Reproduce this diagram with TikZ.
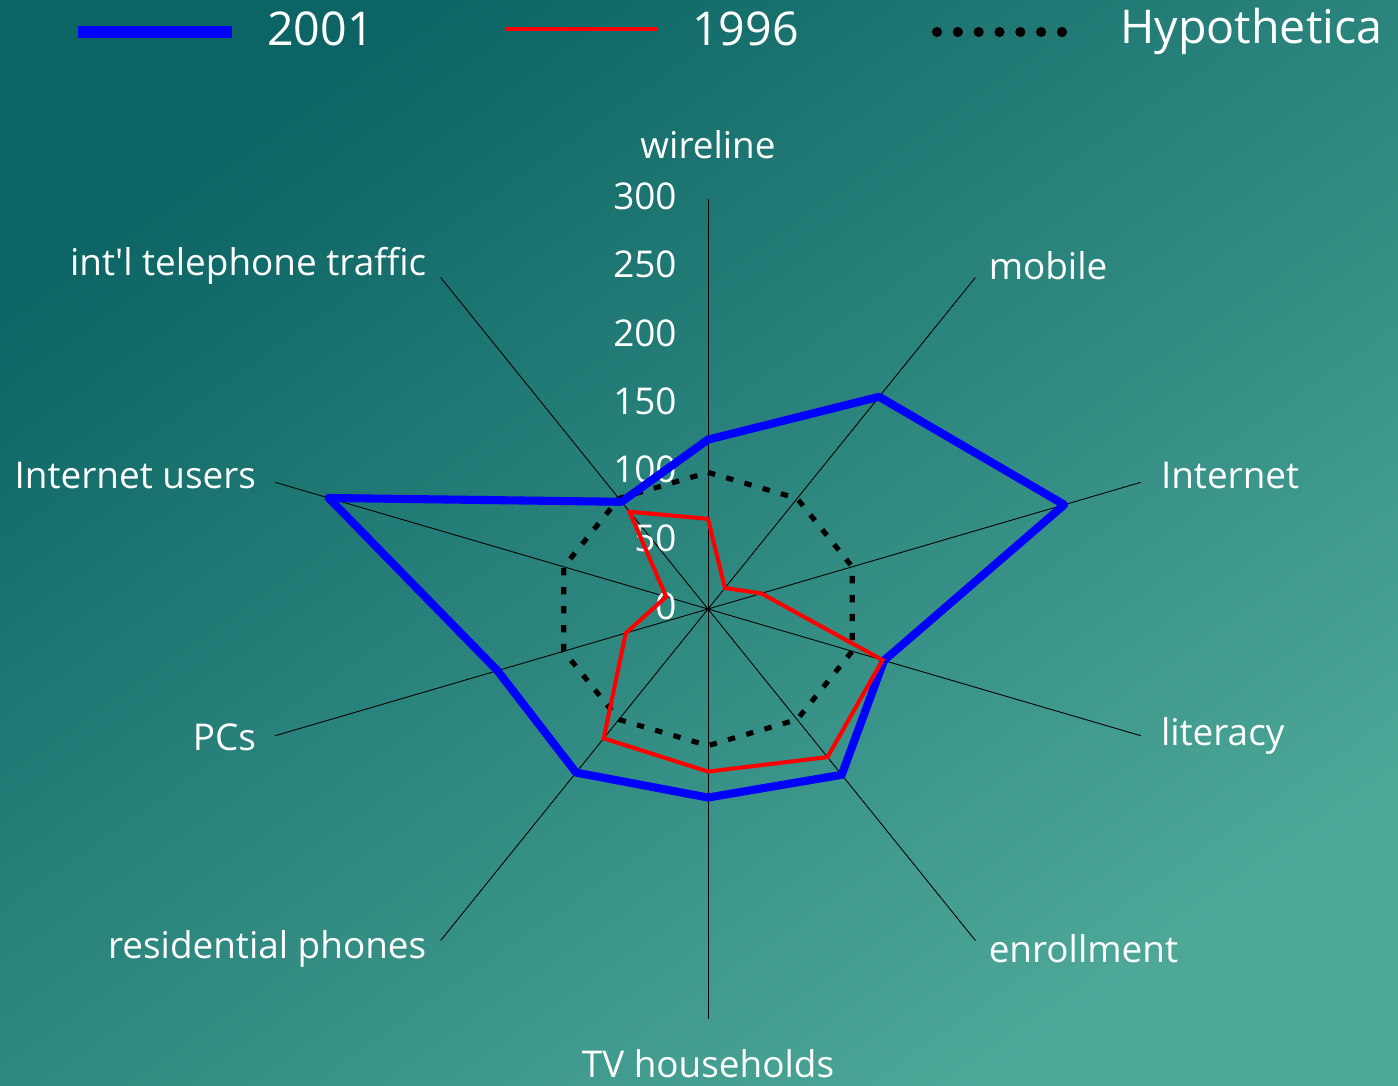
\documentclass[tikz,border=0pt]{standalone}
\usepackage{fontspec}
\setmainfont{Open Sans}
\usetikzlibrary{calc}
\usetikzlibrary{positioning}
\definecolor{TealDark}{HTML}{0C6464}
\definecolor{TealMid}{HTML}{2C7F7E}
\definecolor{TealLight}{HTML}{4EA898}
\definecolor{LineBlue}{HTML}{0000FF}
\definecolor{LineRed}{HTML}{FF0000}

\begin{document}
\begin{tikzpicture}[x=0.02cm, y=-0.02cm,
  lbl/.style={text=white, inner sep=0pt, font=\fontsize{21}{23}\selectfont},
  legtxt/.style={text=white, inner sep=0pt, font=\fontsize{26.5}{28}\selectfont},
  spoke/.style={black, line width=0.5pt},
  line2001/.style={LineBlue, line width=4.6pt, line join=round},
  line1996/.style={LineRed, line width=2.3pt, line join=miter},
  linehyp/.style={black, line width=2.9pt, dash pattern=on 4.2pt off 6.6pt}]

  \shade[top color=TealDark, middle color=TealMid, bottom color=TealLight,
    shading angle=35] (0,0) rectangle (1398,1085);
  \useasboundingbox (0,0) rectangle (1398,1085);
  \clip (0,0) rectangle (1398,1085);

  \coordinate (Origin) at (708,609);

  % legend
  \coordinate (LegBlueA) at (78,32);
  \coordinate (LegBlueB) at (232,32);
  \coordinate (LegRedA)  at (505,29);
  \coordinate (LegRedB)  at (658,29);
  \coordinate (LegHypA)  at (937,32);
  \coordinate (LegHypB)  at (1062,32);
  \draw[LineBlue, line width=6.3pt] (LegBlueA) -- (LegBlueB);
  \draw[LineRed, line width=2.6pt] (LegRedA) -- (LegRedB);
  \draw[black, line width=5.8pt, line cap=round, dash pattern=on 0pt off 11.85pt]
    (LegHypA) -- (LegHypB);
  \node[legtxt, anchor=west] (Leg2001) at (267,29) {2001};
  \node[legtxt, anchor=west] (Leg1996) at (692,29) {1996};
  \node[legtxt, anchor=west] (LegHyp)  at (1120,31) {Hypothetica};

  \begin{scope}[shift={(Origin)}, x=0.030333cm, y=0.027333cm]
    \foreach \i in {0,...,9}{%
      \coordinate (Ax\i) at ({90-36*\i}:300);
      \draw[spoke] (Origin) -- (Ax\i);
    }

    \foreach \v in {0,50,...,300}{%
      \node[lbl, anchor=east] (Tick\v) at (-20.5,\v+2) {\v};
    }

    \foreach \v [count=\i from 0] in {100,100,100,100,100,100,100,100,100,100}{%
      \coordinate (Hyp\i) at ({90-36*\i}:\v);
    }
    \foreach \v [count=\i from 0] in {66,19,37,121,134,119,117,57,29,88}{%
      \coordinate (Old\i) at ({90-36*\i}:\v);
    }
    \foreach \v [count=\i from 0] in {124,192,247,122,150,138,148,146,263,97}{%
      \coordinate (New\i) at ({90-36*\i}:\v);
    }

    \draw[linehyp] (Hyp0) \foreach \i in {1,...,9}{ -- (Hyp\i) } -- cycle;
    \draw[line2001] (New0) \foreach \i in {1,...,9}{ -- (New\i) } -- cycle;
    \draw[line1996] (Old0) \foreach \i in {1,...,9}{ -- (Old\i) } -- cycle;
  \end{scope}

  % axis names
  \node[lbl] (LblWire) at ($(Ax0)+(0,-54)$) {wireline};
  \node[lbl, anchor=west] (LblMob)  at ($(Ax1)+(13,-12)$) {mobile};
  \node[lbl, anchor=west] (LblNet)  at ($(Ax2)+(20,-7)$) {Internet};
  \node[lbl, anchor=west] (LblLit)  at ($(Ax3)+(20,0)$) {literacy};
  \node[lbl, anchor=west] (LblEnr)  at ($(Ax4)+(13,8)$) {enrollment};
  \node[lbl] (LblTV) at ($(Ax5)+(0,45)$) {TV households};
  \node[lbl, anchor=east] (LblRes)  at ($(Ax6)+(-14,8)$) {residential phones};
  \node[lbl, anchor=east] (LblPC)   at ($(Ax7)+(-19,2)$) {PCs};
  \node[lbl, anchor=east] (LblUser) at ($(Ax8)+(-19,-7)$) {Internet users};
  \node[lbl, anchor=east] (LblTel)  at ($(Ax9)+(-14,-12)$) {int\textquotesingle l telephone traffic};
\end{tikzpicture}
\end{document}
